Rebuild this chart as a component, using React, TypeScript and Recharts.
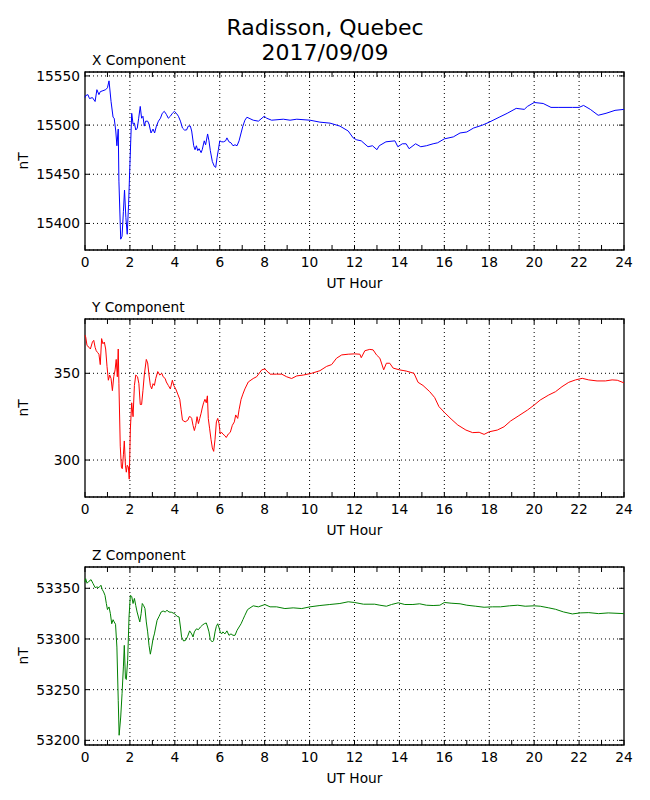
import { LineChart, Line, XAxis, YAxis, CartesianGrid, ReferenceLine, ReferenceArea } from "recharts";

// hours and nT values
const X_HOURS = [0, 0.03, 0.13, 0.2, 0.33, 0.45, 0.53, 0.62, 0.68, 0.8, 0.92, 1.0, 1.07, 1.16, 1.25, 1.3, 1.37, 1.42, 1.48, 1.51, 1.59, 1.65, 1.71, 1.76, 1.82, 1.88, 1.94, 2.0, 2.08, 2.14, 2.2, 2.26, 2.33, 2.39, 2.46, 2.52, 2.58, 2.64, 2.7, 2.79, 2.85, 2.94, 3.03, 3.1, 3.18, 3.27, 3.36, 3.44, 3.53, 3.62, 3.71, 3.8, 3.89, 3.98, 4.07, 4.16, 4.25, 4.34, 4.43, 4.52, 4.6, 4.69, 4.75, 4.84, 4.9, 4.96, 5.02, 5.08, 5.17, 5.22, 5.31, 5.37, 5.46, 5.52, 5.58, 5.67, 5.76, 5.82, 5.88, 5.94, 6.0, 6.09, 6.17, 6.26, 6.32, 6.41, 6.5, 6.59, 6.68, 6.77, 6.86, 6.95, 7.03, 7.12, 7.21, 7.49, 7.72, 7.98, 8.09, 8.31, 8.83, 9.13, 9.43, 10.02, 10.46, 10.91, 11.35, 11.72, 11.94, 12.1, 12.3, 12.6, 12.8, 13.0, 13.1, 13.4, 13.8, 13.93, 14.13, 14.3, 14.43, 14.72, 14.95, 15.2, 15.5, 15.7, 16.0, 16.4, 16.7, 17.0, 17.3, 17.7, 18.0, 18.44, 18.8, 19.2, 19.56, 19.7, 20.0, 20.4, 20.75, 21.1, 21.7, 22.0, 22.2, 22.5, 22.85, 23.2, 23.6, 24.0];
const X_NT = [15528, 15530, 15531, 15527, 15528, 15524, 15536, 15531, 15534, 15535, 15536, 15538, 15545, 15524, 15508, 15507, 15494, 15479, 15496, 15443, 15384, 15387, 15412, 15434, 15406, 15389, 15419, 15460, 15512, 15501, 15502, 15495, 15497, 15507, 15519, 15507, 15509, 15499, 15504, 15504, 15501, 15492, 15496, 15492, 15499, 15504, 15507, 15512, 15514, 15511, 15507, 15509, 15512, 15514, 15512, 15509, 15504, 15497, 15495, 15495, 15499, 15499, 15494, 15479, 15475, 15479, 15474, 15476, 15472, 15475, 15484, 15480, 15491, 15484, 15474, 15463, 15458, 15457, 15467, 15475, 15484, 15483, 15483, 15484, 15487, 15483, 15482, 15479, 15480, 15479, 15484, 15492, 15499, 15505, 15508, 15505, 15504, 15509, 15507, 15505, 15506, 15505, 15506, 15505, 15503, 15502, 15499, 15494, 15487, 15485, 15484, 15478, 15479, 15475, 15479, 15483, 15484, 15478, 15481, 15481, 15476, 15481, 15478, 15479, 15481, 15482, 15486, 15488, 15492, 15493, 15497, 15500, 15503, 15508, 15512, 15517, 15516, 15519, 15523, 15522, 15518, 15518, 15518, 15518, 15520, 15516, 15510, 15512, 15515, 15516];

const Y_HOURS = [0, 0.03, 0.09, 0.18, 0.24, 0.33, 0.39, 0.45, 0.5, 0.56, 0.62, 0.68, 0.74, 0.8, 0.86, 0.92, 0.98, 1.04, 1.1, 1.16, 1.22, 1.28, 1.34, 1.39, 1.44, 1.48, 1.51, 1.57, 1.62, 1.66, 1.71, 1.75, 1.8, 1.84, 1.88, 1.93, 1.97, 2.02, 2.08, 2.14, 2.2, 2.26, 2.34, 2.4, 2.46, 2.52, 2.58, 2.64, 2.73, 2.79, 2.85, 2.91, 2.97, 3.03, 3.09, 3.15, 3.24, 3.33, 3.42, 3.48, 3.57, 3.62, 3.71, 3.8, 3.89, 3.95, 4.04, 4.13, 4.22, 4.28, 4.34, 4.46, 4.58, 4.64, 4.69, 4.75, 4.81, 4.87, 4.93, 4.99, 5.05, 5.11, 5.17, 5.22, 5.28, 5.34, 5.4, 5.45, 5.49, 5.55, 5.61, 5.67, 5.73, 5.79, 5.85, 5.91, 5.97, 6.02, 6.08, 6.14, 6.23, 6.29, 6.38, 6.47, 6.56, 6.65, 6.71, 6.8, 6.86, 6.95, 7.03, 7.12, 7.27, 7.49, 7.64, 7.87, 8.01, 8.24, 8.53, 8.76, 8.98, 9.2, 9.43, 9.72, 10.09, 10.46, 10.76, 10.98, 11.2, 11.43, 11.72, 12.0, 12.24, 12.3, 12.46, 12.68, 12.83, 12.98, 13.13, 13.3, 13.42, 13.57, 13.72, 14.0, 14.3, 14.65, 14.83, 15.05, 15.35, 15.57, 15.76, 16.0, 16.3, 16.6, 16.96, 17.26, 17.55, 17.77, 18.0, 18.36, 18.66, 18.95, 19.32, 19.7, 20.0, 20.27, 20.65, 20.95, 21.24, 21.54, 21.84, 22.14, 22.43, 22.8, 23.17, 23.47, 23.7, 24.0];
const Y_NT = [372, 371, 366, 365, 364, 368, 369, 365, 363, 362, 361, 355, 370, 367, 368, 364, 354, 346, 349, 347, 340, 348, 352, 358, 348, 364, 344, 308, 296, 295, 303, 311, 297, 293, 297, 296, 289, 318, 333, 325, 343, 349, 348, 344, 332, 332, 340, 349, 358, 356, 349, 343, 341, 344, 343, 347, 351, 349, 350, 348, 347, 345, 343, 341, 346, 343, 341, 338, 335, 329, 323, 322, 323, 325, 325, 324, 320, 317, 320, 325, 321, 324, 327, 330, 333, 335, 333, 337, 324, 318, 312, 307, 305, 312, 322, 324, 321, 315, 316, 315, 314, 313, 315, 316, 320, 322, 326, 324, 329, 335, 338, 341, 345, 347, 348, 352, 352.5, 349.5, 349.5, 349.5, 348, 347, 348.5, 349, 350, 351.5, 354, 355, 358.7, 360.6, 361, 361.2, 361, 359, 363, 363.8, 363.5, 360.6, 358.7, 352, 355.8, 355.8, 353, 352, 351.3, 350, 344.8, 343, 339.4, 336, 330.8, 327.5, 323.7, 320.2, 317.3, 315.8, 316, 314.8, 316.3, 317.3, 319.2, 322.5, 325.6, 328.8, 331.7, 334.6, 337.5, 339.4, 342.3, 344.8, 346.2, 347.1, 346.2, 345.6, 345.6, 346.2, 346, 344.5];

const Z_HOURS = [0, 0.03, 0.09, 0.18, 0.27, 0.36, 0.45, 0.53, 0.62, 0.71, 0.77, 0.83, 0.89, 0.95, 1.0, 1.07, 1.13, 1.19, 1.25, 1.3, 1.36, 1.42, 1.48, 1.52, 1.59, 1.65, 1.71, 1.75, 1.8, 1.84, 1.9, 1.96, 2.02, 2.08, 2.14, 2.2, 2.26, 2.32, 2.38, 2.44, 2.5, 2.55, 2.61, 2.67, 2.73, 2.79, 2.85, 2.91, 2.97, 3.03, 3.09, 3.15, 3.21, 3.3, 3.39, 3.48, 3.57, 3.65, 3.74, 3.86, 3.98, 4.1, 4.19, 4.25, 4.3, 4.39, 4.48, 4.57, 4.66, 4.75, 4.81, 4.87, 4.96, 5.05, 5.14, 5.22, 5.31, 5.4, 5.46, 5.52, 5.58, 5.67, 5.73, 5.79, 5.85, 5.91, 5.97, 6.02, 6.08, 6.14, 6.23, 6.32, 6.41, 6.5, 6.59, 6.68, 6.77, 6.86, 6.95, 7.03, 7.12, 7.24, 7.49, 7.72, 8.01, 8.24, 8.53, 8.9, 9.27, 9.65, 10.02, 10.46, 10.9, 11.35, 11.72, 12.0, 12.4, 12.9, 13.13, 13.42, 13.65, 13.95, 14.24, 14.6, 14.9, 15.2, 15.5, 15.8, 16.0, 16.3, 16.7, 17.0, 17.4, 17.77, 18.15, 18.5, 18.9, 19.27, 19.6, 20.0, 20.27, 20.65, 20.95, 21.3, 21.7, 22.05, 22.43, 22.87, 23.3, 24.0];
const Z_NT = [53356, 53359.5, 53355, 53357, 53358.5, 53354.6, 53350.7, 53351.3, 53350.7, 53353, 53348.7, 53346.4, 53343, 53335, 53329, 53331.6, 53325, 53315, 53319, 53316.8, 53314.5, 53292, 53239.5, 53205, 53223, 53246, 53272.4, 53293.7, 53261, 53260, 53279, 53321.7, 53343, 53342, 53335, 53340, 53333, 53326.6, 53321.7, 53316.8, 53325, 53335, 53333, 53330, 53316.8, 53307, 53293.7, 53285, 53292, 53300.3, 53305, 53311.8, 53318.4, 53322.4, 53326.6, 53327.6, 53326.6, 53328.3, 53326.6, 53326.3, 53325, 53322.4, 53321.7, 53311.8, 53302, 53298, 53298.7, 53302.6, 53308, 53305, 53302, 53307, 53310, 53309.2, 53311.8, 53313.5, 53315, 53315.8, 53311.8, 53307, 53299.3, 53297, 53298.7, 53307, 53312.5, 53315, 53311, 53307, 53305, 53307, 53305, 53308, 53303.6, 53305, 53303.6, 53303.6, 53308.5, 53311.8, 53315, 53319, 53323.4, 53329, 53332.7, 53331.7, 53334, 53331.7, 53331.7, 53330, 53330.7, 53330, 53331.7, 53333, 53334, 53335, 53336.7, 53336, 53334.3, 53334.3, 53333.3, 53332.3, 53334, 53335.7, 53334, 53334, 53334.7, 53333.3, 53333, 53333.3, 53336, 53335.3, 53334.7, 53333.3, 53332.3, 53331.3, 53331.7, 53331.7, 53332.7, 53333.3, 53332.3, 53332.7, 53332.3, 53330.7, 53329.3, 53326.7, 53324.7, 53325.7, 53326, 53325, 53325.7, 53325];

const HOUR_TICKS = [0, 1, 2, 3, 4, 5, 6, 7, 8, 9, 10, 11, 12, 13, 14, 15, 16, 17, 18, 19, 20, 21, 22, 23, 24];
const GRID_HOURS = [2, 4, 6, 8, 10, 12, 14, 16, 18, 20, 22];
const X_TICKS = [15400, 15450, 15500, 15550];
const Y_TICKS = [300, 350];
const Z_TICKS = [53200, 53250, 53300, 53350];

const FONT = "'DejaVu Sans', sans-serif";
const PLOT_LEFT = 85;
const PLOT_RIGHT = 624;
const PLOT_H = 178;
const PAD_TOP = 10;
const CHART_W = 650;
const CHART_H = PAD_TOP + PLOT_H + 45;

interface PanelProps {
  hours: number[];
  values: number[];
  domain: [number, number];
  yTicks: number[];
  color: string;
  top: number;
}

function Panel({ hours, values, domain, yTicks, color, top }: PanelProps) {
  const data = hours.map((h, i) => ({ h, v: values[i] }));
  const bottom = PAD_TOP + PLOT_H;

  const xTick = ({ x, payload }: any) => (
    <g>
      <line x1={x} x2={x} y1={bottom} y2={bottom - 5} stroke="#000" />
      <line x1={x} x2={x} y1={PAD_TOP} y2={PAD_TOP + 5} stroke="#000" />
      {payload.value % 2 === 0 && (
        <text x={x} y={bottom + 17} textAnchor="middle" fontSize={13.75} fontFamily={FONT} fill="#000">
          {payload.value}
        </text>
      )}
    </g>
  );

  const yTick = ({ y, payload }: any) => (
    <g>
      <line x1={PLOT_LEFT} x2={PLOT_LEFT + 5} y1={y} y2={y} stroke="#000" />
      <line x1={PLOT_RIGHT} x2={PLOT_RIGHT - 5} y1={y} y2={y} stroke="#000" />
      <text x={PLOT_LEFT - 5} y={y + 5} textAnchor="end" fontSize={13.75} fontFamily={FONT} fill="#000">
        {payload.value}
      </text>
    </g>
  );

  return (
    <div style={{ position: "absolute", left: 0, top: top - PAD_TOP }}>
      <LineChart width={CHART_W} height={CHART_H} data={data} margin={{ top: PAD_TOP, right: CHART_W - PLOT_RIGHT, bottom: 0, left: 0 }}>
        <CartesianGrid vertical={false} stroke="#000" strokeDasharray="1 3" />
        {GRID_HOURS.map((h) => (
          <ReferenceLine key={h} x={h} stroke="#000" strokeDasharray="1 3" />
        ))}
        <XAxis
          dataKey="h"
          type="number"
          domain={[0, 24]}
          ticks={HOUR_TICKS}
          interval={0}
          height={45}
          axisLine={false}
          tickLine={false}
          tick={xTick}
        />
        <YAxis
          type="number"
          domain={domain}
          ticks={yTicks}
          width={PLOT_LEFT}
          allowDataOverflow
          axisLine={false}
          tickLine={false}
          tick={yTick}
        />
        <Line type="linear" dataKey="v" stroke={color} strokeWidth={1} dot={false} isAnimationActive={false} />
        <ReferenceArea x1={0} x2={24} y1={domain[0]} y2={domain[1]} fill="none" stroke="#000" strokeWidth={1.3} />
      </LineChart>
    </div>
  );
}

const PANELS = [
  { name: "X Component", top: 72 },
  { name: "Y Component", top: 319 },
  { name: "Z Component", top: 567 },
];

export default function App() {
  return (
    <div style={{ position: "absolute", left: 0, top: 0, width: 650, height: 800, background: "#fff" }}>
      <Panel hours={X_HOURS} values={X_NT} domain={[15373, 15554]} yTicks={X_TICKS} color="#0000ff" top={72} />
      <Panel hours={Y_HOURS} values={Y_NT} domain={[278.7, 381.3]} yTicks={Y_TICKS} color="#ff0000" top={319} />
      <Panel hours={Z_HOURS} values={Z_NT} domain={[53195.4, 53371]} yTicks={Z_TICKS} color="#008000" top={567} />
      <svg width={650} height={800} style={{ position: "absolute", left: 0, top: 0, pointerEvents: "none" }} fontFamily={FONT}>
        <text x={325} y={35} textAnchor="middle" fontSize={22}>Radisson, Quebec</text>
        <text x={325} y={60} textAnchor="middle" fontSize={22}>2017/09/09</text>
        {PANELS.map((p) => (
          <g key={p.name}>
            <text x={92} y={p.top - 7} fontSize={13.75}>{p.name}</text>
            <text x={(PLOT_LEFT + PLOT_RIGHT) / 2} y={p.top + PLOT_H + 38} textAnchor="middle" fontSize={13.75}>UT Hour</text>
            <text
              x={28}
              y={p.top + PLOT_H / 2}
              textAnchor="middle"
              fontSize={13.75}
              transform={`rotate(-90 28 ${p.top + PLOT_H / 2})`}
            >
              nT
            </text>
          </g>
        ))}
      </svg>
    </div>
  );
}
